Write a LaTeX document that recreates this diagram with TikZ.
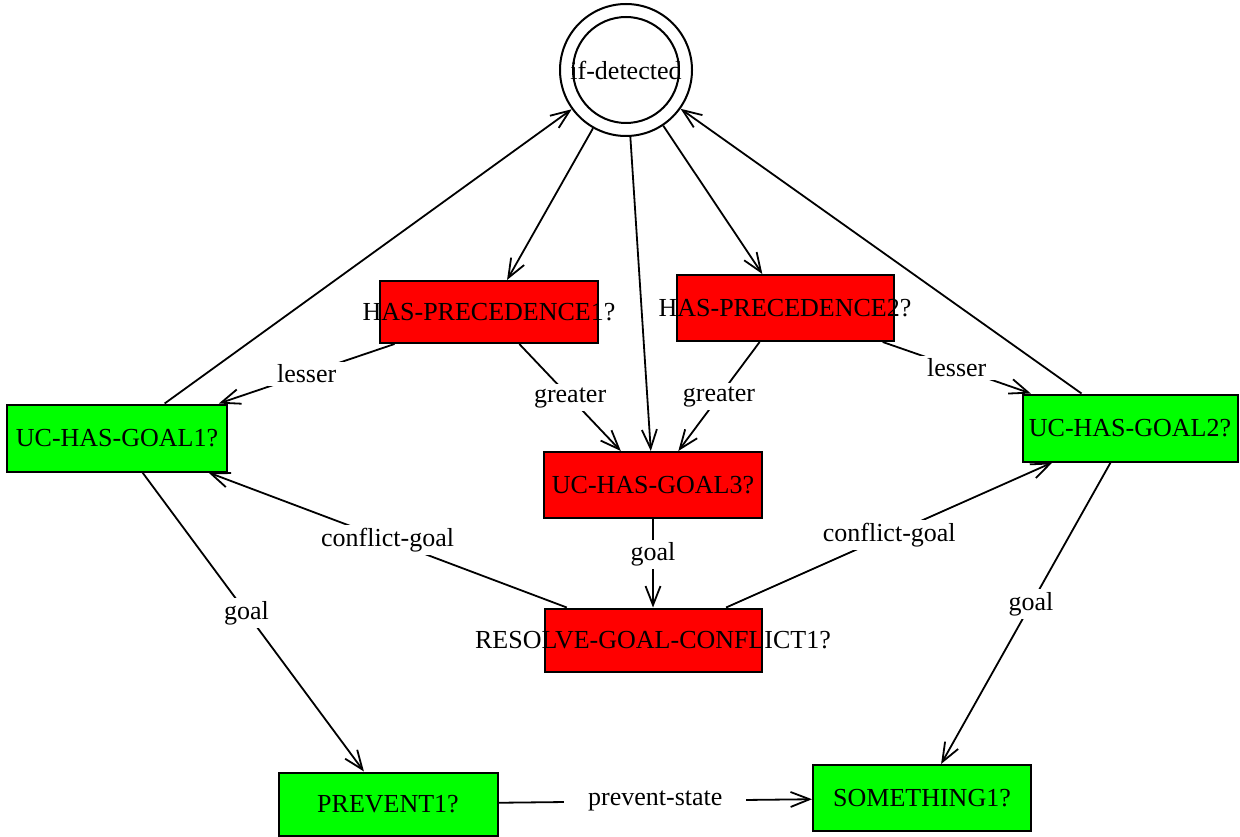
\documentclass[tikz,border=0pt]{standalone}
\usepackage{fontspec}
\setmainfont{Liberation Serif}
\usetikzlibrary{arrows.meta}
\tikzset{
  txt/.style={font=\fontsize{26}{30}\selectfont},
  box/.style={draw=black, line width=2pt, inner sep=0pt, txt},
  redbox/.style={box, fill=red},
  greenbox/.style={box, fill=green},
  sz/.style 2 args={minimum width=#1pt, minimum height=#2pt},
  conn/.style={line width=1.8pt, -{Straight Barb[length=19pt,width=15pt,line width=1.8pt]}},
  elabel/.style={fill=white, inner xsep=9pt, inner ysep=3pt, txt},
  ring/.style={circle, draw=black, line width=2pt, inner sep=0pt}
}
\begin{document}
\begin{tikzpicture}[x=1pt,y=-1pt]
  \useasboundingbox (0,0) rectangle (1240,837);

  % start state
  \node[ring, minimum size=132pt] (ifd) at (626,70) {};
  \node[ring, minimum size=106pt, txt] (ifdin) at (626,70) {\makebox[0pt]{if-detected}};

  % test nodes
  \node[redbox, sz={218}{62}] (hp1) at (489,312) {\makebox[0pt]{HAS-PRECEDENCE1?}};
  \node[redbox, sz={217}{66}] (hp2) at (785,308) {\makebox[0pt]{HAS-PRECEDENCE2?}};
  \node[greenbox, sz={220}{67}] (uc1) at (117,438) {\makebox[0pt]{UC-HAS-GOAL1?}};
  \node[greenbox, sz={215}{67}] (uc2) at (1130,428) {\makebox[0pt]{UC-HAS-GOAL2?}};
  \node[redbox, sz={218}{66}] (uc3) at (653,485) {\makebox[0pt]{UC-HAS-GOAL3?}};
  \node[redbox, sz={217}{63}] (rgc) at (653,640) {\makebox[0pt]{RESOLVE-GOAL-CONFLICT1?}};
  \node[greenbox, sz={219}{63}] (prev) at (388,804) {\makebox[0pt]{PREVENT1?}};
  \node[greenbox, sz={218}{66}] (some) at (922,798) {\makebox[0pt]{SOMETHING1?}};

  % connectors from the start state
  \draw[conn] (ifd) -- (hp1);
  \draw[conn] (ifd) -- (uc3);
  \draw[conn] (ifd) -- (hp2);
  \draw[conn] (uc1) -- (ifd);
  \draw[conn] (uc2) -- (ifd);

  % labelled connectors
  \draw[conn] (hp1) -- node[elabel] {lesser} (uc1);
  \draw[conn] (hp1) -- node[elabel] {greater} (uc3);
  \draw[conn] (hp2) -- node[elabel] {greater} (uc3);
  \draw[conn] (hp2) -- node[elabel] {lesser} (uc2);
  \draw[conn] (uc3) -- node[elabel, pos=0.4] {goal} (rgc);
  \draw[conn] (rgc) -- node[elabel] {conflict-goal} (uc1);
  \draw[conn] (rgc) -- node[elabel] {conflict-goal} (uc2);
  \draw[conn] (uc1) -- node[elabel, pos=0.47] {goal} (prev);
  \draw[conn] (uc2) -- node[elabel, pos=0.47] {goal} (some);
  \draw[conn] (prev) -- node[elabel, inner xsep=24pt] {prevent-state} (some);
\end{tikzpicture}
\end{document}
